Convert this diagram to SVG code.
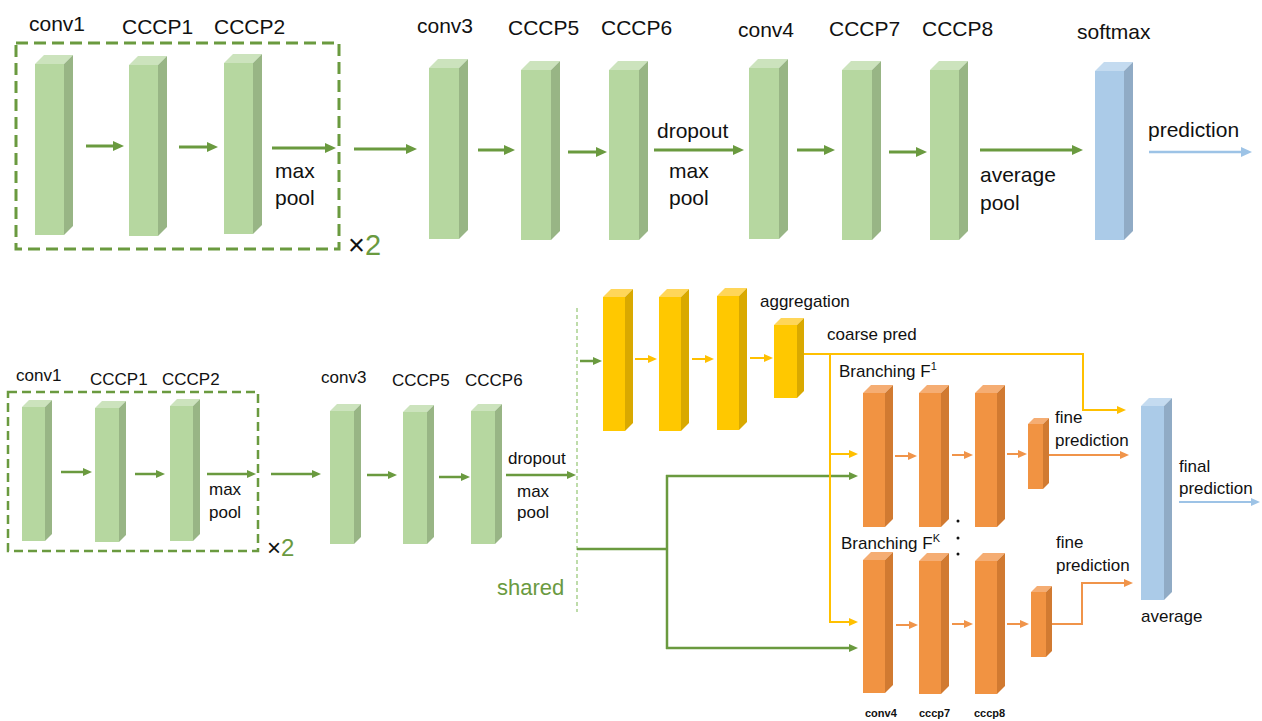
<svg xmlns="http://www.w3.org/2000/svg" width="1262" height="721" viewBox="0 0 1262 721">
<style>
text{font-family:"Liberation Sans",Arial,sans-serif;fill:#111}
.t1{font-size:21px}
.t2{font-size:17px}
.t3{font-size:11px;font-weight:bold}
.gf{fill:#b6d7a0}.gt{fill:#cce3bd}.gs{fill:#98b585}
.yf{fill:#ffc800}.yt{fill:#ffd659}.ys{fill:#d9a900}
.of{fill:#f19342}.ot{fill:#f5ad73}.os{fill:#d17a31}
.bf{fill:#abcbe8}.bt{fill:#c4dbf0}.bs{fill:#90abc5}
.ag{stroke:#6a9a3f;stroke-width:3;fill:none}
.ag2{stroke:#6a9a3f;stroke-width:2.5;fill:none}
.ay{stroke:#ffc000;stroke-width:2;fill:none}
.ao{stroke:#f0944a;stroke-width:2;fill:none}
.ab{stroke:#9dc3e6;stroke-width:2.5;fill:none}
.dash{fill:none;stroke:#6a9a3f}
</style>
<defs>
<marker id="mG" markerUnits="userSpaceOnUse" markerWidth="12" markerHeight="10" refX="3" refY="5" orient="auto"><path d="M0,0 L11,5 L0,10 z" fill="#6a9a3f"/></marker>
<marker id="mB" markerUnits="userSpaceOnUse" markerWidth="12" markerHeight="10" refX="3" refY="5" orient="auto"><path d="M0,0 L11,5 L0,10 z" fill="#9dc3e6"/></marker>
<marker id="sG" markerUnits="userSpaceOnUse" markerWidth="10" markerHeight="8" refX="2" refY="4" orient="auto"><path d="M0,0 L9,4 L0,8 z" fill="#6a9a3f"/></marker>
<marker id="sY" markerUnits="userSpaceOnUse" markerWidth="10" markerHeight="8" refX="2" refY="4" orient="auto"><path d="M0,0 L9,4 L0,8 z" fill="#ffc000"/></marker>
<marker id="sO" markerUnits="userSpaceOnUse" markerWidth="10" markerHeight="8" refX="2" refY="4" orient="auto"><path d="M0,0 L9,4 L0,8 z" fill="#f0944a"/></marker>
<marker id="sB" markerUnits="userSpaceOnUse" markerWidth="10" markerHeight="8" refX="2" refY="4" orient="auto"><path d="M0,0 L9,4 L0,8 z" fill="#9dc3e6"/></marker>
</defs>

<!-- dashed groups -->
<rect x="16" y="43" width="323" height="206" class="dash" stroke-width="3" stroke-dasharray="12 6"/>
<rect x="8" y="392" width="250" height="159" class="dash" stroke-width="2.5" stroke-dasharray="9 5"/>
<line x1="577" y1="308" x2="577" y2="612" stroke="#a9d18e" stroke-width="1.5" stroke-dasharray="4 3"/>

<!-- top row -->
<g id="t-conv1"><rect x="35" y="64" width="29" height="171" class="gf"/><polygon points="35,64 44,55 73,55 64,64" class="gt"/><polygon points="64,64 73,55 73,226 64,235" class="gs"/></g>
<g id="t-cccp1"><rect x="129" y="65" width="29" height="171" class="gf"/><polygon points="129,65 138,56 167,56 158,65" class="gt"/><polygon points="158,65 167,56 167,227 158,236" class="gs"/></g>
<g id="t-cccp2"><rect x="224" y="63" width="29" height="171" class="gf"/><polygon points="224,63 233,54 262,54 253,63" class="gt"/><polygon points="253,63 262,54 262,225 253,234" class="gs"/></g>
<g id="t-conv3"><rect x="429" y="68" width="30" height="171" class="gf"/><polygon points="429,68 438,59 468,59 459,68" class="gt"/><polygon points="459,68 468,59 468,230 459,239" class="gs"/></g>
<g id="t-cccp5"><rect x="521" y="70" width="30" height="170" class="gf"/><polygon points="521,70 530,61 560,61 551,70" class="gt"/><polygon points="551,70 560,61 560,231 551,240" class="gs"/></g>
<g id="t-cccp6"><rect x="609" y="70" width="30" height="170" class="gf"/><polygon points="609,70 618,61 648,61 639,70" class="gt"/><polygon points="639,70 648,61 648,231 639,240" class="gs"/></g>
<g id="t-conv4"><rect x="749" y="68" width="30" height="171" class="gf"/><polygon points="749,68 758,59 788,59 779,68" class="gt"/><polygon points="779,68 788,59 788,230 779,239" class="gs"/></g>
<g id="t-cccp7"><rect x="842" y="70" width="30" height="170" class="gf"/><polygon points="842,70 851,61 881,61 872,70" class="gt"/><polygon points="872,70 881,61 881,231 872,240" class="gs"/></g>
<g id="t-cccp8"><rect x="930" y="70" width="29" height="170" class="gf"/><polygon points="930,70 939,61 968,61 959,70" class="gt"/><polygon points="959,70 968,61 968,231 959,240" class="gs"/></g>
<g id="t-softmax"><rect x="1095" y="71" width="29" height="169" class="bf"/><polygon points="1095,71 1104,62 1133,62 1124,71" class="bt"/><polygon points="1124,71 1133,62 1133,231 1124,240" class="bs"/></g>

<!-- bottom-left row -->
<g id="b-conv1"><rect x="22" y="407" width="23" height="134" class="gf"/><polygon points="22,407 29,400 52,400 45,407" class="gt"/><polygon points="45,407 52,400 52,534 45,541" class="gs"/></g>
<g id="b-cccp1"><rect x="95" y="408" width="24" height="134" class="gf"/><polygon points="95,408 102,401 126,401 119,408" class="gt"/><polygon points="119,408 126,401 126,535 119,542" class="gs"/></g>
<g id="b-cccp2"><rect x="170" y="406" width="23" height="135" class="gf"/><polygon points="170,406 177,399 200,399 193,406" class="gt"/><polygon points="193,406 200,399 200,534 193,541" class="gs"/></g>
<g id="b-conv3"><rect x="330" y="411" width="24" height="133" class="gf"/><polygon points="330,411 337,404 361,404 354,411" class="gt"/><polygon points="354,411 361,404 361,537 354,544" class="gs"/></g>
<g id="b-cccp5"><rect x="403" y="412" width="24" height="132" class="gf"/><polygon points="403,412 410,405 434,405 427,412" class="gt"/><polygon points="427,412 434,405 434,537 427,544" class="gs"/></g>
<g id="b-cccp6"><rect x="471" y="411" width="24" height="133" class="gf"/><polygon points="471,411 478,404 502,404 495,411" class="gt"/><polygon points="495,411 502,404 502,537 495,544" class="gs"/></g>

<!-- yellow coarse branch -->
<g id="y1"><rect x="603" y="297" width="22" height="134" class="yf"/><polygon points="603,297 611,289 633,289 625,297" class="yt"/><polygon points="625,297 633,289 633,423 625,431" class="ys"/></g>
<g id="y2"><rect x="659" y="297" width="22" height="134" class="yf"/><polygon points="659,297 667,289 689,289 681,297" class="yt"/><polygon points="681,297 689,289 689,423 681,431" class="ys"/></g>
<g id="y3"><rect x="717" y="296" width="22" height="134" class="yf"/><polygon points="717,296 725,288 747,288 739,296" class="yt"/><polygon points="739,296 747,288 747,422 739,430" class="ys"/></g>
<g id="y-agg"><rect x="774" y="325" width="23" height="73" class="yf"/><polygon points="774,325 781,318 804,318 797,325" class="yt"/><polygon points="797,325 804,318 804,391 797,398" class="ys"/></g>

<!-- orange branch F1 -->
<g id="o1-conv4"><rect x="863" y="393" width="22" height="134" class="of"/><polygon points="863,393 871,385 893,385 885,393" class="ot"/><polygon points="885,393 893,385 893,519 885,527" class="os"/></g>
<g id="o1-cccp7"><rect x="919" y="393" width="22" height="134" class="of"/><polygon points="919,393 927,385 949,385 941,393" class="ot"/><polygon points="941,393 949,385 949,519 941,527" class="os"/></g>
<g id="o1-cccp8"><rect x="975" y="393" width="22" height="134" class="of"/><polygon points="975,393 983,385 1005,385 997,393" class="ot"/><polygon points="997,393 1005,385 1005,519 997,527" class="os"/></g>
<g id="o1-out"><rect x="1028" y="424" width="15" height="65" class="of"/><polygon points="1028,424 1034,418 1049,418 1043,424" class="ot"/><polygon points="1043,424 1049,418 1049,483 1043,489" class="os"/></g>

<!-- orange branch FK -->
<g id="oK-conv4"><rect x="863" y="560" width="22" height="133" class="of"/><polygon points="863,560 871,552 893,552 885,560" class="ot"/><polygon points="885,560 893,552 893,685 885,693" class="os"/></g>
<g id="oK-cccp7"><rect x="919" y="561" width="22" height="133" class="of"/><polygon points="919,561 927,553 949,553 941,561" class="ot"/><polygon points="941,561 949,553 949,686 941,694" class="os"/></g>
<g id="oK-cccp8"><rect x="975" y="561" width="22" height="133" class="of"/><polygon points="975,561 983,553 1005,553 997,561" class="ot"/><polygon points="997,561 1005,553 1005,686 997,694" class="os"/></g>
<g id="oK-out"><rect x="1031" y="592" width="15" height="65" class="of"/><polygon points="1031,592 1037,586 1052,586 1046,592" class="ot"/><polygon points="1046,592 1052,586 1052,651 1046,657" class="os"/></g>

<!-- final average -->
<g id="final"><rect x="1141" y="406" width="23" height="194" class="bf"/><polygon points="1141,406 1149,398 1172,398 1164,406" class="bt"/><polygon points="1164,406 1172,398 1172,592 1164,600" class="bs"/></g>

<!-- connectors -->
<g id="connectors">
<line x1="86" y1="146" x2="116" y2="146" class="ag" marker-end="url(#mG)"/>
<line x1="179" y1="147" x2="210" y2="147" class="ag" marker-end="url(#mG)"/>
<line x1="272" y1="148" x2="328" y2="148" class="ag" marker-end="url(#mG)"/>
<line x1="354" y1="149" x2="409" y2="149" class="ag" marker-end="url(#mG)"/>
<line x1="478" y1="150" x2="507" y2="150" class="ag" marker-end="url(#mG)"/>
<line x1="568" y1="152" x2="599" y2="152" class="ag" marker-end="url(#mG)"/>
<line x1="654" y1="150" x2="736" y2="150" class="ag" marker-end="url(#mG)"/>
<line x1="797" y1="150" x2="827" y2="150" class="ag" marker-end="url(#mG)"/>
<line x1="889" y1="152" x2="919" y2="152" class="ag" marker-end="url(#mG)"/>
<line x1="980" y1="150" x2="1075" y2="150" class="ag" marker-end="url(#mG)"/>
<line x1="1149" y1="152" x2="1244" y2="152" class="ab" marker-end="url(#mB)"/>

<line x1="61" y1="472" x2="85" y2="472" class="ag2" marker-end="url(#sG)"/>
<line x1="135" y1="474" x2="158" y2="474" class="ag2" marker-end="url(#sG)"/>
<line x1="207" y1="474" x2="249" y2="474" class="ag2" marker-end="url(#sG)"/>
<line x1="271" y1="474" x2="314" y2="474" class="ag2" marker-end="url(#sG)"/>
<line x1="367" y1="475" x2="390" y2="475" class="ag2" marker-end="url(#sG)"/>
<line x1="439" y1="477" x2="463" y2="477" class="ag2" marker-end="url(#sG)"/>
<line x1="506" y1="475" x2="569" y2="475" class="ag2" marker-end="url(#sG)"/>
<line x1="580" y1="361" x2="595" y2="361" class="ag2" marker-end="url(#sG)"/>
<line x1="577" y1="549" x2="667" y2="549" class="ag2"/>
<line x1="667" y1="475" x2="667" y2="649" class="ag2"/>
<line x1="666" y1="476" x2="851" y2="476" class="ag2" marker-end="url(#sG)"/>
<line x1="666" y1="648" x2="851" y2="648" class="ag2" marker-end="url(#sG)"/>

<line x1="635" y1="359" x2="650" y2="359" class="ay" marker-end="url(#sY)"/>
<line x1="692" y1="359" x2="707" y2="359" class="ay" marker-end="url(#sY)"/>
<line x1="750" y1="358" x2="766" y2="358" class="ay" marker-end="url(#sY)"/>
<polyline points="804,354 1083,354 1083,410 1119,410" class="ay" marker-end="url(#sY)"/>
<polyline points="830,354 830,622 851,622" class="ay" marker-end="url(#sY)"/>
<line x1="830" y1="454" x2="851" y2="454" class="ay" marker-end="url(#sY)"/>

<line x1="895" y1="456" x2="910" y2="456" class="ao" marker-end="url(#sO)"/>
<line x1="952" y1="455" x2="966" y2="455" class="ao" marker-end="url(#sO)"/>
<line x1="1007" y1="454" x2="1020" y2="454" class="ao" marker-end="url(#sO)"/>
<line x1="1049" y1="455" x2="1122" y2="455" class="ao" marker-end="url(#sO)"/>
<line x1="896" y1="625" x2="911" y2="625" class="ao" marker-end="url(#sO)"/>
<line x1="952" y1="624" x2="966" y2="624" class="ao" marker-end="url(#sO)"/>
<line x1="1007" y1="624" x2="1022" y2="624" class="ao" marker-end="url(#sO)"/>
<polyline points="1052,624 1082,624 1082,583 1126,583" class="ao" marker-end="url(#sO)"/>

<line x1="1179" y1="502" x2="1253" y2="502" stroke="#9dc3e6" stroke-width="2" marker-end="url(#sB)"/>
</g>

<g id="dots" fill="#111">
<circle cx="958" cy="521" r="1.5"/><circle cx="958" cy="538" r="1.5"/><circle cx="958" cy="554" r="1.5"/>
</g>

<!-- top labels -->
<g id="top-labels" class="t1">
<text x="29" y="31" class="t1">conv1</text>
<text x="122" y="34" class="t1">CCCP1</text>
<text x="214" y="34" class="t1">CCCP2</text>
<text x="417" y="33" class="t1">conv3</text>
<text x="508" y="35" class="t1">CCCP5</text>
<text x="601" y="35" class="t1">CCCP6</text>
<text x="738" y="37" class="t1">conv4</text>
<text x="829" y="36" class="t1">CCCP7</text>
<text x="922" y="36" class="t1">CCCP8</text>
<text x="1077" y="39" class="t1">softmax</text>
<text x="275" y="178" class="t1">max</text>
<text x="275" y="205" class="t1">pool</text>
<text x="657" y="138" class="t1">dropout</text>
<text x="669" y="178" class="t1">max</text>
<text x="669" y="205" class="t1">pool</text>
<text x="980" y="182" class="t1">average</text>
<text x="980" y="210" class="t1">pool</text>
<text x="1148" y="137" class="t1">prediction</text>
<text x="348" y="255" font-size="29">×<tspan fill="#6a9a3f">2</tspan></text>
</g>

<!-- bottom labels -->
<g id="bottom-labels">
<text x="16" y="381" class="t2">conv1</text>
<text x="90" y="385" class="t2">CCCP1</text>
<text x="162" y="385" class="t2">CCCP2</text>
<text x="321" y="383" class="t2">conv3</text>
<text x="392" y="386" class="t2">CCCP5</text>
<text x="465" y="386" class="t2">CCCP6</text>
<text x="209" y="495" class="t2">max</text>
<text x="209" y="518" class="t2">pool</text>
<text x="508" y="464" class="t2">dropout</text>
<text x="517" y="497" class="t2">max</text>
<text x="517" y="518" class="t2">pool</text>
<text x="267" y="556" font-size="24">×<tspan fill="#6a9a3f">2</tspan></text>
<text x="497" y="595" font-size="22" style="fill:#6a9a3f">shared</text>
<text x="760" y="307" class="t2">aggregation</text>
<text x="827" y="340" class="t2">coarse pred</text>
<text x="839" y="377" class="t2">Branching F<tspan font-size="11" dy="-7">1</tspan></text>
<text x="1055" y="423" class="t2">fine</text>
<text x="1055" y="446" class="t2">prediction</text>
<text x="1179" y="472" class="t2">final</text>
<text x="1179" y="494" class="t2">prediction</text>
<text x="841" y="549" class="t2">Branching F<tspan font-size="11" dy="-7">K</tspan></text>
<text x="1056" y="548" class="t2">fine</text>
<text x="1056" y="571" class="t2">prediction</text>
<text x="1141" y="622" class="t2">average</text>
<text x="865" y="717" class="t3">conv4</text>
<text x="919" y="717" class="t3">cccp7</text>
<text x="974" y="717" class="t3">cccp8</text>
</g>
</svg>
